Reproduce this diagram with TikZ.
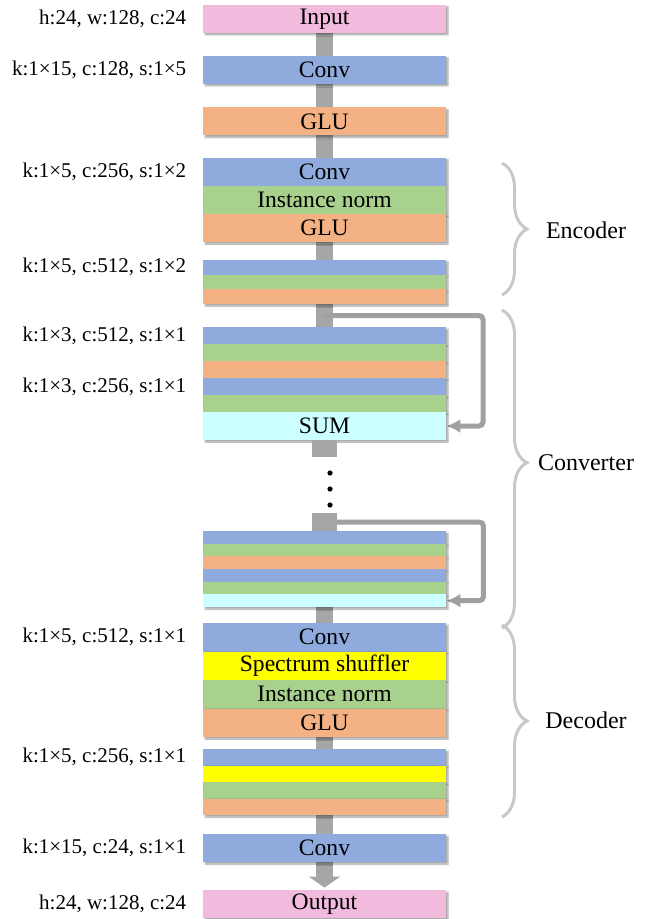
\documentclass[tikz,border=0pt]{standalone}
\usepackage{fontspec}
\setmainfont{Liberation Serif}
\usetikzlibrary{positioning,arrows.meta,shadows.blur,backgrounds,decorations.pathreplacing}
\definecolor{convblue}{HTML}{8FAADC}
\definecolor{glured}{HTML}{F4B183}
\definecolor{normgreen}{HTML}{A9D18E}
\definecolor{iopink}{HTML}{F2BBDD}
\definecolor{sumcyan}{HTML}{CCFFFF}
\definecolor{shufyellow}{HTML}{FFFF00}
\definecolor{trunkgray}{HTML}{A6A6A6}
\definecolor{skipgray}{HTML}{A0A0A0}
\definecolor{bracegray}{HTML}{C8C8C8}

\begin{document}
\begin{tikzpicture}[x=0.5pt, y=-0.5pt,
    layer/.style={rectangle, minimum width=121.5pt, minimum height=14pt, inner sep=0pt,
      font=\fontsize{11.8}{13}\selectfont,
      blur shadow={shadow xshift=1pt, shadow yshift=-1pt, shadow blur steps=4, shadow blur radius=0.8pt, shadow opacity=35}},
    lbl/.style={inner sep=0pt, font=\fontsize{10.5}{12}\selectfont},
    grp/.style={inner sep=0pt, font=\fontsize{12}{14}\selectfont},
    stub/.style={rectangle, fill=trunkgray, minimum width=12.5pt, inner sep=0pt},
    dot/.style={circle, fill=black, minimum size=2.6pt, inner sep=0pt},
    trunk/.style={draw=trunkgray, line width=8.5pt},
    skip/.style={draw=skipgray, line width=2.5pt, line cap=round, rounded corners=2pt,
      -{Latex[length=7pt,width=7pt]}},
    brc/.style={draw=bracegray, line width=1.5pt, decorate,
      decoration={brace, amplitude=12.5pt}}]
    \useasboundingbox (0,0) rectangle (653,919);

    % Define the nodes
    \node[layer, fill=iopink] (in) at (324.5,19) {Input};
    \node[layer, fill=convblue] (c1) at (324.5,70) {Conv};
    \node[layer, fill=glured] (g1) at (324.5,121.5) {GLU};

    % encoder
    \node[layer, fill=convblue] (e1c) at (324.5,172) {Conv};
    \node[layer, fill=normgreen] (e1n) at (324.5,200) {Instance norm};
    \node[layer, fill=glured] (e1g) at (324.5,228) {GLU};
    \node[layer, fill=convblue, minimum height=7.33pt] (e2c) at (324.5,267.3) {};
    \node[layer, fill=normgreen, minimum height=7.33pt] (e2n) at (324.5,282) {};
    \node[layer, fill=glured, minimum height=7.33pt] (e2g) at (324.5,296.7) {};

    % converter
    \coordinate (sk1) at (324.5,315.5);
    \node[layer, fill=convblue, minimum height=8.5pt] (r1a) at (324.5,335.5) {};
    \node[layer, fill=normgreen, minimum height=8.5pt] (r1b) at (324.5,352.5) {};
    \node[layer, fill=glured, minimum height=8.5pt] (r1c) at (324.5,369.5) {};
    \node[layer, fill=convblue, minimum height=8.5pt] (r1d) at (324.5,386.5) {};
    \node[layer, fill=normgreen, minimum height=8.5pt] (r1e) at (324.5,403.5) {};
    \node[layer, fill=sumcyan] (r1s) at (324.5,426) {SUM};
    \node[stub, minimum height=8.5pt] (s1) at (324.5,448.5) {};
    \node[dot] (dt1) at (330,473) {};
    \node[dot] (dt2) at (330,489) {};
    \node[dot] (dt3) at (330,505) {};
    \node[stub, minimum height=9pt] (s2) at (324.5,522) {};
    \node[layer, fill=convblue, minimum height=6.33pt] (r2a) at (324.5,537.33) {};
    \node[layer, fill=normgreen, minimum height=6.33pt] (r2b) at (324.5,550) {};
    \node[layer, fill=glured, minimum height=6.33pt] (r2c) at (324.5,562.67) {};
    \node[layer, fill=convblue, minimum height=6.33pt] (r2d) at (324.5,575.33) {};
    \node[layer, fill=normgreen, minimum height=6.33pt] (r2e) at (324.5,588) {};
    \node[layer, fill=sumcyan, minimum height=6.33pt] (r2f) at (324.5,600.67) {};

    % decoder
    \node[layer, fill=convblue, minimum height=14.25pt] (d1c) at (324.5,637.25) {Conv};
    \node[layer, fill=shufyellow, minimum height=14.25pt] (d1s) at (324.5,665.75) {Spectrum shuffler};
    \node[layer, fill=normgreen, minimum height=14.25pt] (d1n) at (324.5,694.25) {Instance norm};
    \node[layer, fill=glured, minimum height=14.25pt] (d1g) at (324.5,722.75) {GLU};
    \node[layer, fill=convblue, minimum height=8.25pt] (d2c) at (324.5,757.25) {};
    \node[layer, fill=shufyellow, minimum height=8.25pt] (d2s) at (324.5,773.75) {};
    \node[layer, fill=normgreen, minimum height=8.25pt] (d2n) at (324.5,790.25) {};
    \node[layer, fill=glured, minimum height=8.25pt] (d2g) at (324.5,806.75) {};

    \node[layer, fill=convblue] (co) at (324.5,848) {Conv};
    \node[layer, fill=iopink] (out) at (324.5,904) {Output};

    % layer settings
    \node[lbl, left=8pt of in] (lin) {h:24, w:128, c:24};
    \node[lbl, left=8pt of c1] (lc1) {k:1×15, c:128, s:1×5};
    \node[lbl, left=8pt of e1c] (le1) {k:1×5, c:256, s:1×2};
    \node[lbl, left=8pt of e2c] (le2) {k:1×5, c:512, s:1×2};
    \node[lbl, left=8pt of r1a] (lr1) {k:1×3, c:512, s:1×1};
    \node[lbl, left=8pt of r1d] (lr2) {k:1×3, c:256, s:1×1};
    \node[lbl, left=8pt of d1c] (ld1) {k:1×5, c:512, s:1×1};
    \node[lbl, left=8pt of d2c] (ld2) {k:1×5, c:256, s:1×1};
    \node[lbl, left=8pt of co] (lco) {k:1×15, c:24, s:1×1};
    \node[lbl, left=8pt of out] (lout) {h:24, w:128, c:24};

    % groups
    \draw[brc] (502,163) -- (502,295);
    \draw[brc, decoration={aspect=0.48}] (502,310) -- (502,628);
    \draw[brc] (502,625) -- (502,817);
    \node[grp] (enc) at (586,230) {Encoder};
    \node[grp] (cnv) at (586,463) {Converter};
    \node[grp] (dec) at (586,720) {Decoder};

    \begin{scope}[on background layer]
    \draw[trunk] (in.south) -- (r1a.north);
    \draw[trunk] (r2f.south) -- (co.north);
    \draw[trunk, shorten >=1pt, -{Triangle[length=5.5pt,width=15.5pt]}] (co.south) -- (out.north);
    \draw[skip] (sk1) -- ++(158.5,0) |- (r1s.east);
    \draw[skip] (s2.east) -- ++(146,0) |- (r2f.east);
    \end{scope}
\end{tikzpicture}
\end{document}
